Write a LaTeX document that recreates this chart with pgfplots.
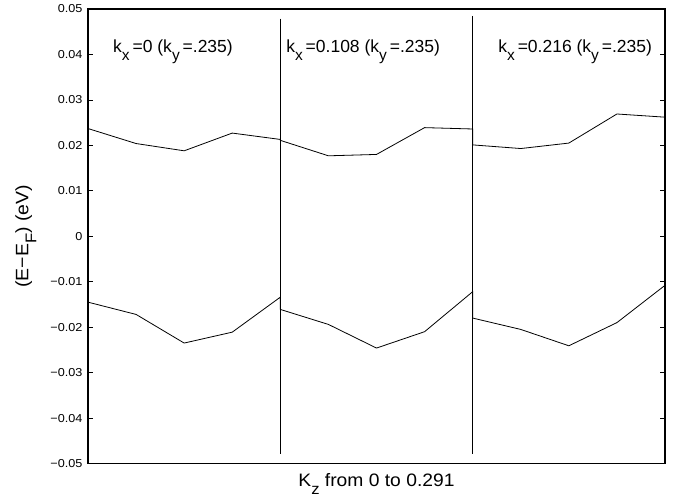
\documentclass[border=0pt]{standalone}
\usepackage{pgfplots}
\pgfplotsset{compat=1.18}
\usepackage{graphicx}
\usepackage{fontspec}
\setmainfont{Liberation Sans}
\newcommand\sub[1]{\raisebox{-0.45em}{\fontsize{15.5}{15.5}\selectfont #1}}
\newcommand\tl[1]{\scalebox{1.1}[1]{#1}}
\begin{document}
\begin{tikzpicture}
\begin{axis}[
  scale only axis, width=577pt, height=454.5pt,
  xmin=0, xmax=12, ymin=-0.05, ymax=0.05,
  xtick=\empty,
  ytick={-0.05,-0.04,-0.03,-0.02,-0.01,0,0.01,0.02,0.03,0.04,0.05},
  yticklabels={\tl{−0.05},\tl{−0.04},\tl{−0.03},\tl{−0.02},\tl{−0.01},\tl{0},\tl{0.01},\tl{0.02},\tl{0.03},\tl{0.04},\tl{0.05}},
  scaled y ticks=false,
  tick align=inside, major tick length=5pt,
  every tick/.style={black, line width=0.8pt},
  axis line style={line width=1.2pt},
  yticklabel style={font=\fontsize{11.5}{12}\selectfont, anchor=east, inner sep=0pt, xshift=-5.3pt},
  xlabel={\scalebox{1.07}[1]{K\sub{z} from 0 to 0.291}},
  ylabel={\scalebox{1.08}[1]{(E−E\sub{F}) (eV)}},
  label style={font=\fontsize{18}{20}\selectfont},
  xlabel style={at={(axis description cs:0.5,-0.0495)}, anchor=base, inner sep=0pt},
  ylabel style={at={(axis description cs:-0.1035,0.5)}, anchor=base, rotate=0, inner sep=0pt},
  clip=false,
]
\addplot[black, line width=0.8pt] coordinates {
(0,0.0237) (1,0.0204) (2,0.0188) (3,0.0227) (4,0.0213) (4,0.0211) (5,0.0177) (6,0.0180) (7,0.0239) (8,0.0236) (8,0.0201) (9,0.0193) (10,0.0205) (11,0.0269) (12,0.0262)};
\addplot[black, line width=0.8pt] coordinates {
(0,-0.0145) (1,-0.0172) (2,-0.0235) (3,-0.0211) (4,-0.0134) (4,-0.0161) (5,-0.0194) (6,-0.0246) (7,-0.0210) (8,-0.0122) (8,-0.0180) (9,-0.0205) (10,-0.0241) (11,-0.0190) (12,-0.0108)};
\addplot[black, line width=0.8pt] coordinates {(4,0.0479) (4,-0.0478)};
\addplot[black, line width=0.8pt] coordinates {(8,0.0485) (8,-0.0478)};
\node[anchor=base west, inner sep=0pt, font=\fontsize{17.5}{19}\selectfont] at (axis cs:0.52,0.0405) {k\sub{x}\,=0 (k\sub{y}\,=.235)};
\node[anchor=base west, inner sep=0pt, font=\fontsize{17.5}{19}\selectfont] at (axis cs:4.12,0.0405) {k\sub{x}\,=0.108 (k\sub{y}\,=.235)};
\node[anchor=base west, inner sep=0pt, font=\fontsize{17.5}{19}\selectfont] at (axis cs:8.53,0.0405) {k\sub{x}\,=0.216 (k\sub{y}\,=.235)};
\end{axis}
\path (current axis.south west) ++(-88pt,-32.5pt) coordinate (bbA);
\path (current axis.north east) ++(8pt,9pt) coordinate (bbB);
\path (bbA) rectangle (bbB);
\end{tikzpicture}
\end{document}
